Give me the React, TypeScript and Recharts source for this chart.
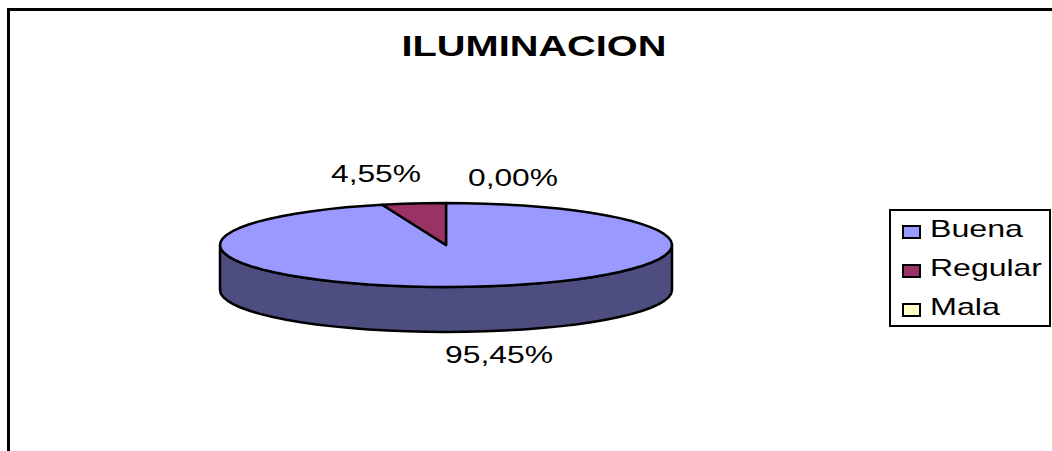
import React from 'react';
import { PieChart, Pie, Legend } from 'recharts';

const categories = ['Buena', 'Regular', 'Mala'];
const shares = [95.45, 4.55, 0];
const labels = ['95,45%', '4,55%', '0,00%'];
const topColors = ['#9999FF', '#993366', '#FFFFCC'];
const sideColors = ['#4D4D80', '#4D1A33', '#808066'];

const data = categories.map((name, i) => ({
  name,
  value: shares[i],
  fill: topColors[i],
  side: sideColors[i],
}));

const WIDTH = 1052;
const HEIGHT = 451;
const CX = 446;
const CY = 245;
const RADIUS = 226;
const SQUASH = 42 / 226;
const DEPTH = 45;
const FONT = '"Liberation Sans", Arial, sans-serif';

// label anchors relative to the pie centre, and the stretched widths of the text
const labelOffsets = [[53, 118], [-70, -63], [67, -59]];
const labelWidths = [108, 90, 90];
const legendWidths = [93, 112, 70];

const RAD = Math.PI / 180;

// the reference outline is a coarse polygon, so arcs are walked in small steps
const arcPoints = (cx: number, cy: number, r: number, from: number, to: number) => {
  const steps = Math.max(1, Math.round(Math.abs(to - from) / 5));
  const pts: string[] = [];
  for (let i = 0; i <= steps; i++) {
    const a = from + ((to - from) * i) / steps;
    pts.push(`${cx + r * Math.cos(a * RAD)},${cy - r * SQUASH * Math.sin(a * RAD)}`);
  }
  return pts;
};

// flat pie sector squashed into an ellipse, with the wall of the 3D look below it
const TiltedSector = (props: any) => {
  const { cx, cy, outerRadius: r, startAngle, endAngle, fill, side } = props;
  if (Math.abs(endAngle - startAngle) < 0.01) return <g />;
  const top = `M${cx},${cy} L${arcPoints(cx, cy, r, startAngle, endAngle).join(' L')} Z`;
  const covers = startAngle >= 0 && endAngle <= -180;
  const wallPts = [...arcPoints(cx, cy, r, 0, -180), ...arcPoints(cx, cy + DEPTH, r, -180, 0)];
  return (
    <g>
      {covers && <path d={`M${wallPts.join(' L')} Z`} fill={side} stroke="#000" strokeWidth={2.5} strokeLinejoin="round" />}
      <path d={top} fill={fill} stroke="#000" strokeWidth={2.5} strokeLinejoin="round" />
    </g>
  );
};

const renderLabel = (props: any) => {
  const { cx, cy, index } = props;
  const [dx, dy] = labelOffsets[index];
  return (
    <text
      x={cx + dx}
      y={cy + dy}
      fill="#000"
      textAnchor="middle"
      fontFamily={FONT}
      fontSize={24}
      textLength={labelWidths[index]}
      lengthAdjust="spacingAndGlyphs"
    >
      {labels[index]}
    </text>
  );
};

const LegendBox = ({ payload }: any) => (
  <svg width={162} height={118} style={{ display: 'block' }}>
    <rect x={1} y={1} width={160} height={116} fill="#fff" stroke="#000" strokeWidth={2} />
    {(payload || []).map((entry: any, i: number) => (
      <g key={entry.value}>
        <rect x={14} y={17 + i * 39} width={17} height={12} fill={entry.color} stroke="#000" strokeWidth={2} />
        <text x={41} y={28 + i * 39} fontFamily={FONT} fontSize={24} fill="#000" textLength={legendWidths[i]} lengthAdjust="spacingAndGlyphs">
          {entry.value}
        </text>
      </g>
    ))}
  </svg>
);

export default function App() {
  return (
    <div style={{ position: 'absolute', left: 0, top: 0, width: WIDTH, height: HEIGHT, background: '#fff', overflow: 'hidden' }}>
      <div style={{ position: 'absolute', left: 7, top: 8, width: 1100, height: 500, borderLeft: '3px solid #000', borderTop: '3px solid #000' }} />
      <PieChart width={WIDTH} height={HEIGHT} margin={{ top: 0, right: 0, bottom: 0, left: 0 }} style={{ position: 'absolute', left: 0, top: 0 }}>
        <text x={534} y={56} textAnchor="middle" fontFamily={FONT} fontWeight="bold" fontSize={29} fill="#000" textLength={265} lengthAdjust="spacingAndGlyphs">
          ILUMINACION
        </text>
        <Pie
          data={data}
          dataKey="value"
          nameKey="name"
          cx={CX}
          cy={CY}
          outerRadius={RADIUS}
          startAngle={90}
          endAngle={-270}
          paddingAngle={0}
          stroke="#000"
          labelLine={false}
          label={renderLabel}
          shape={TiltedSector}
          isAnimationActive={false}
        />
        <Legend content={<LegendBox />} itemSorter={null} layout="vertical" align="right" verticalAlign="top" wrapperStyle={{ position: 'absolute', left: 889, top: 209, width: 162 }} />
      </PieChart>
    </div>
  );
}
